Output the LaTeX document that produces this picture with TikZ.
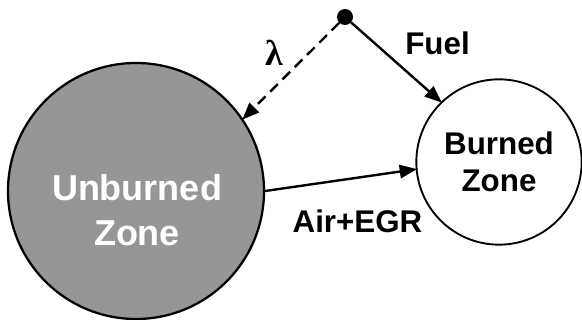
\documentclass[tikz,border=0pt]{standalone}
\usepackage{fontspec}
\setmainfont{Liberation Sans}
\newfontfamily\greekfont{Liberation Serif}
\usepackage{tikz}
\usetikzlibrary{positioning}
\usetikzlibrary{arrows.meta}
\definecolor{zonegray}{RGB}{150,150,150}
\tikzset{>={Triangle[length=13pt,width=10pt]}}
\tikzset{
  zone/.style={circle, draw, line width=1.7pt, inner sep=0pt},
  flow/.style={->, line width=1.8pt, shorten >=-1pt},
  bigtxt/.style={font=\fontsize{27}{34}\selectfont\bfseries, align=center},
  lbl/.style={font=\fontsize{23.5}{28}\selectfont\bfseries, align=center}
}

\begin{document}
\begin{tikzpicture}[x=0.75pt, y=-0.75pt]

\useasboundingbox (0,0) rectangle (582,320);

% ---------------- Zones ----------------
\node[zone, fill=zonegray, minimum size=192pt] (unburned) at (136,191) {};
\node[bigtxt, text=white] (unburnedtxt) at (137,210) {Unburned\\Zone};

\node[zone, fill=white, line width=1.4pt, minimum size=124pt, lbl] (burned) at (499,162) {Burned\\Zone};

% Source point
\node[circle, fill=black, minimum size=12pt, inner sep=0pt] (src) at (345,17) {};

% ---------------- Flows ----------------
\draw[flow, dash pattern=on 8pt off 5pt] (src) -- (unburned.34);
\draw[flow] (src) -- (burned.134);
\draw[flow] (unburned.east) -- (burned.185);

% ---------------- Labels ----------------
\node[lbl, anchor=base] (fuel) at (437.5,55) {Fuel};
\node[lbl, anchor=base] (airegr) at (357.5,233) {Air+EGR};
\node[font=\greekfont\bfseries\fontsize{27}{30}\selectfont] (lambda) at (274,53) {λ};

\end{tikzpicture}
\end{document}
